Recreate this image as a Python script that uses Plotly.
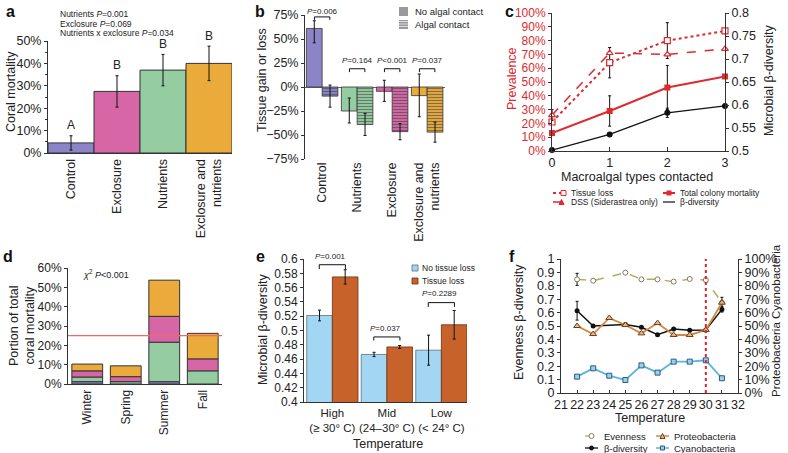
import plotly.graph_objects as go

# ---------------- DATA ----------------
# panel a
a_cats = ["Control", "Exclosure", "Nutrients", "Exclosure and<br>nutrients"]
a_mort = [4.5, 27.5, 37.0, 40.0]
a_err = [3.2, 7.0, 7.0, 7.7]
a_letters = ["A", "B", "B", "B"]

# panel b
b_cats = ["Control", "Nutrients", "Exclosure", "Exclosure and<br>nutrients"]
b_no = [61.0, -25.0, -4.5, -9.0]
b_no_plus = [8.0, 13.5, 11.5, 22.5]
b_no_minus = [15.0, 12.5, 10.5, 22.0]
b_alg = [-9.5, -39.0, -46.5, -47.0]
b_alg_err = [11.5, 11.5, 8.5, 10.5]
b_pvals = ["P=0.006", "P=0.164", "P<0.001", "P=0.037"]

# panel c
c_x = [0, 1, 2, 3]
c_tissue = [21, 64, 80, 87]
c_tissue_err = [None, 11, 13, None]
c_dss = [26, 71, 70, 74]
c_dss_err = [4, None, None, None]
c_mort = [13, 29, 46, 54]
c_mort_err = [None, 11, 16, None]
c_beta = [0.502, 0.536, 0.583, 0.598]
c_beta_err = [None, 0.004, 0.01, None]

# panel d
d_seasons = ["Winter", "Spring", "Summer", "Fall"]
d_control = [1.2, 0.0, 1.2, 0.0]
d_nutrients = [2.4, 1.2, 20.4, 6.8]
d_exclosure = [3.2, 2.6, 13.4, 6.2]
d_both = [3.5, 5.6, 18.7, 13.2]
d_threshold = 25

# panel e
e_cats = ["High<br>(≥ 30° C)", "Mid<br>(24–30° C)", "Low<br>(< 24° C)"]
e_no = [0.521, 0.4665, 0.4725]
e_no_err = [0.0075, 0.003, 0.021]
e_loss = [0.575, 0.477, 0.508]
e_loss_err = [0.01, 0.002, 0.02]
e_pvals = ["P=0.001", "P=0.037", "P=0.2289"]

# panel f
f_temp = [22, 23, 24, 25, 26, 27, 28, 29, 30, 31]
f_even = [0.848, 0.838, None, 0.898, 0.848, 0.848, 0.831, 0.851, 0.843, 0.674]
f_even_err = [0.045, None, None, None, None, None, None, None, None, None]
f_beta = [0.614, 0.500, None, 0.512, 0.490, 0.435, 0.478, 0.468, 0.470, 0.624]
f_beta_err = [0.07, None, None, None, None, None, None, None, None, 0.02]
f_proteo = [50, 44, 56, 50.7, 44.5, 52.2, 43.3, 43.3, 47, 67.4]
f_proteo_err = [None, None, None, None, None, None, None, None, None, 4]
f_cyano = [12.2, 18.4, 12.9, 9.7, 20.6, 15.2, 23.4, 23.4, 24.4, 11]
f_cutoff = 30

# ---------------- STYLE ----------------
FONT = "Liberation Sans, Arial, Helvetica, sans-serif"
W, H = 788, 453
TXT = "#222222"
PURPLE = "#8b84c6"
PINK = "#d766a7"
GREEN = "#95cca2"
ORANGE = "#eaab3b"
RED = "#dd2a2e"
LBLUE = "#a2d6f2"
BROWN = "#c8622b"
OLIVE = "#a9b35c"
POR = "#d9873f"
CYAN = "#5ab4e0"
EDGE = "#333333"


def px(x):
    return x / W


def py(y):
    return 1 - y / H


def dom(a, b, total):
    return [a / total, b / total]


def ydom(top, bottom):
    return [1 - bottom / H, 1 - top / H]


fig = go.Figure()
ebar = dict(type="data", color="#111111", thickness=1, width=1.5)

# ---- a ----
fig.add_trace(go.Bar(
    x=a_cats, y=a_mort, width=1, offset=-0.5,
    marker=dict(color=[PURPLE, PINK, GREEN, ORANGE], line=dict(color=EDGE, width=1)),
    error_y=dict(array=a_err, **ebar), xaxis="x", yaxis="y", showlegend=False))

# ---- b ----
b_cols = [PURPLE, GREEN, PINK, ORANGE]
fig.add_trace(go.Bar(
    x=b_cats, y=b_no, width=0.45, offset=-0.45,
    marker=dict(color=b_cols, line=dict(color=EDGE, width=0.8)),
    error_y=dict(array=b_no_plus, arrayminus=b_no_minus, symmetric=False, **ebar),
    xaxis="x2", yaxis="y2", showlegend=False))
fig.add_trace(go.Bar(
    x=b_cats, y=b_alg, width=0.45, offset=0,
    marker=dict(color=b_cols, line=dict(color=EDGE, width=0.8),
                pattern=dict(shape="-", fillmode="overlay", fgcolor="white",
                             fgopacity=0.6, size=3, solidity=0.4)),
    error_y=dict(array=b_alg_err, **ebar),
    xaxis="x2", yaxis="y2", showlegend=False))

# ---- c ----
fig.add_trace(go.Scatter(
    x=c_x, y=c_tissue, mode="lines+markers", cliponaxis=False,
    line=dict(color=RED, dash="dot", width=2),
    marker=dict(symbol="square", size=6, color="white", line=dict(color=RED, width=1.2)),
    error_y=dict(array=c_tissue_err, **ebar), xaxis="x3", yaxis="y3", showlegend=False))
fig.add_trace(go.Scatter(
    x=c_x, y=c_dss, mode="lines+markers", cliponaxis=False,
    line=dict(color=RED, dash="dash", width=1.5),
    marker=dict(symbol="triangle-up", size=6, color="white", line=dict(color=RED, width=1.2)),
    error_y=dict(array=c_dss_err, **ebar), xaxis="x3", yaxis="y3", showlegend=False))
fig.add_trace(go.Scatter(
    x=c_x, y=c_mort, mode="lines+markers", cliponaxis=False,
    line=dict(color=RED, width=2),
    marker=dict(symbol="square", size=6, color=RED),
    error_y=dict(array=c_mort_err, **ebar), xaxis="x3", yaxis="y3", showlegend=False))
fig.add_trace(go.Scatter(
    x=c_x, y=c_beta, mode="lines+markers", cliponaxis=False,
    line=dict(color="#111111", width=1.3),
    marker=dict(symbol="circle", size=6, color="#111111"),
    error_y=dict(array=c_beta_err, **ebar), xaxis="x3", yaxis="y4", showlegend=False))

# ---- d ----
d_layers = [(d_control, PURPLE), (d_nutrients, GREEN), (d_exclosure, PINK), (d_both, ORANGE)]
base = [0.0] * len(d_seasons)
for vals, col in d_layers:
    fig.add_trace(go.Bar(
        x=d_seasons, y=vals, base=list(base), width=0.8, offset=-0.4,
        marker=dict(color=col, line=dict(color=EDGE, width=1)),
        xaxis="x4", yaxis="y5", showlegend=False))
    base = [b + v for b, v in zip(base, vals)]

# ---- e ----
fig.add_trace(go.Bar(
    x=e_cats, y=e_no, width=0.47, offset=-0.47,
    marker=dict(color=LBLUE, line=dict(color="#5d6f7a", width=0.8)),
    error_y=dict(array=e_no_err, **ebar), xaxis="x5", yaxis="y6", showlegend=False))
fig.add_trace(go.Bar(
    x=e_cats, y=e_loss, width=0.47, offset=0,
    marker=dict(color=BROWN, line=dict(color="#6b3010", width=0.8)),
    error_y=dict(array=e_loss_err, **ebar), xaxis="x5", yaxis="y6", showlegend=False))

# ---- f ----
fig.add_trace(go.Scatter(
    x=f_temp, y=f_even, mode="lines+markers", connectgaps=True, cliponaxis=False,
    line=dict(color=OLIVE, dash="dash", width=1.5),
    marker=dict(symbol="circle", size=5, color="white", line=dict(color="#8a7a60", width=1)),
    error_y=dict(array=f_even_err, **ebar), xaxis="x6", yaxis="y7", showlegend=False))
fig.add_trace(go.Scatter(
    x=f_temp, y=f_proteo, mode="lines+markers", cliponaxis=False,
    line=dict(color=POR, width=1.8),
    marker=dict(symbol="triangle-up", size=6, color="#e7b88a", line=dict(color="#6b4020", width=1)),
    error_y=dict(array=f_proteo_err, **ebar), xaxis="x6", yaxis="y8", showlegend=False))
fig.add_trace(go.Scatter(
    x=f_temp, y=f_beta, mode="lines+markers", connectgaps=True, cliponaxis=False,
    line=dict(color="#111111", width=1.5),
    marker=dict(symbol="circle", size=5, color="#111111"),
    error_y=dict(array=f_beta_err, **ebar), xaxis="x6", yaxis="y7", showlegend=False))
fig.add_trace(go.Scatter(
    x=f_temp, y=f_cyano, mode="lines+markers", cliponaxis=False,
    line=dict(color=CYAN, width=1.8),
    marker=dict(symbol="square", size=5, color="#9fd0ea", line=dict(color="#2a5b80", width=1)),
    xaxis="x6", yaxis="y8", showlegend=False))

# ---------------- AXES ----------------
tickf = dict(family=FONT, size=12.5, color=TXT)
base_ax = dict(showgrid=False, zeroline=False, showline=True, linecolor=EDGE, linewidth=1,
               automargin=False, tickfont=tickf, ticks="outside", ticklen=3, tickcolor=EDGE)


def ax(**kw):
    d = dict(base_ax)
    d.update(kw)
    return d


pct = lambda vals: [f"{v}%".replace("-", "−") for v in vals]

layout = dict(
    width=W, height=H, margin=dict(l=0, r=0, t=0, b=0), autosize=False,
    paper_bgcolor="white", plot_bgcolor="white", barmode="overlay",
    font=dict(family=FONT, color=TXT), showlegend=False, hovermode=False,
    # a
    xaxis=ax(domain=dom(48, 232, W), range=[-0.5, 3.5], anchor="y", ticks="", tickangle=-90),
    yaxis=ax(domain=ydom(41, 153), range=[0, 50], anchor="x", tickvals=[0, 10, 20, 30, 40, 50],
             ticktext=pct([0, 10, 20, 30, 40, 50]),
             minor=dict(dtick=5, ticks="outside", ticklen=2, tickcolor=EDGE)),
    # b
    xaxis2=ax(domain=dom(305, 445, W), range=[-0.49, 3.51], anchor="y2", ticks="", showline=False,
              tickangle=-90),
    yaxis2=ax(domain=ydom(15, 159), range=[-75, 75], anchor="x2",
              tickvals=[-75, -50, -25, 0, 25, 50, 75], ticktext=pct([-75, -50, -25, 0, 25, 50, 75]),
              zeroline=True, zerolinecolor="#666666", zerolinewidth=1),
    # c
    xaxis3=ax(domain=dom(552, 725, W), range=[0, 3], anchor="y3", tickvals=c_x, ticks="inside",
              ticklen=4),
    yaxis3=ax(domain=ydom(13, 151), range=[0, 100], anchor="x3", tickvals=list(range(0, 101, 10)),
              ticktext=pct(range(0, 101, 10)), tickfont=dict(family=FONT, size=12, color=RED)),
    yaxis4=ax(domain=ydom(13, 151), range=[0.5, 0.8], anchor="x3", overlaying="y3", side="right",
              tickvals=[0.5, 0.55, 0.6, 0.65, 0.7, 0.75, 0.8],
              ticktext=["0.5", "0.55", "0.6", "0.65", "0.7", "0.75", "0.8"]),
    # d
    xaxis4=ax(domain=dom(68, 222, W), range=[-0.5, 3.5], anchor="y5", ticks="", tickangle=-90,
              tickfont=dict(family=FONT, size=12, color=TXT)),
    yaxis5=ax(domain=ydom(268, 384), range=[0, 60], anchor="x4", tickvals=list(range(0, 61, 10)),
              ticktext=pct(range(0, 61, 10)), tickfont=dict(family=FONT, size=12, color=TXT)),
    # e
    xaxis5=ax(domain=dom(304, 467, W), range=[-0.52, 2.47], anchor="y6", ticks="", tickangle=0,
              tickfont=dict(family=FONT, size=11.5, color=TXT)),
    yaxis6=ax(domain=ydom(259, 402), range=[0.4, 0.6], anchor="x5",
              tickvals=[0.4 + 0.02 * i for i in range(11)],
              ticktext=["0.4", "0.42", "0.44", "0.46", "0.48", "0.5", "0.52", "0.54", "0.56", "0.58", "0.6"],
              tickfont=dict(family=FONT, size=12, color=TXT)),
    # f
    xaxis6=ax(domain=dom(561, 738, W), range=[21, 32], anchor="y7", tickvals=list(range(21, 33)),
              tickangle=0, ticks="inside"),
    yaxis7=ax(domain=ydom(259, 393), range=[0, 1], anchor="x6", tickvals=[i / 10 for i in range(11)],
              ticktext=["0", "0.1", "0.2", "0.3", "0.4", "0.5", "0.6", "0.7", "0.8", "0.9", "1"]),
    yaxis8=ax(domain=ydom(259, 393), range=[0, 100], anchor="x6", overlaying="y7", side="right",
              tickvals=list(range(0, 101, 10)), ticktext=pct(range(0, 101, 10))),
)

ann = []
shapes = []


def note(x, y, text, size=12, xref="paper", yref="paper", xanchor="center", yanchor="middle",
         angle=0, color=TXT, **kw):
    ann.append(dict(x=x, y=y, text=text, xref=xref, yref=yref, xanchor=xanchor, yanchor=yanchor,
                    textangle=angle, showarrow=False, font=dict(family=FONT, size=size, color=color), **kw))


# panel letters
for letter, (lx, ly) in zip("abcdef", [(10, 11), (260, 11), (509, 11), (8, 256), (260, 256), (512, 256)]):
    note(px(lx), py(ly), f"<b>{letter}</b>", size=16, color="#111111")

# ---- a annotations ----
note(px(11), py(92), "Coral mortality", size=12.5, angle=-90)
note(px(58), py(14), "Nutrients <i>P</i>=0.001", size=8.5, xanchor="left")
note(px(58), py(23.5), "Exclosure <i>P</i>=0.069", size=8.5, xanchor="left")
note(px(58), py(33), "Nutrients x exclosure <i>P</i>=0.034", size=8.5, xanchor="left")
for i, (lab, v, e) in enumerate(zip(a_letters, a_mort, a_err)):
    note(i, v + e + 0.6, lab, size=12, xref="x", yref="y", yanchor="bottom")

# ---- b annotations ----
note(px(262), py(80), "Tissue gain or loss", size=12.5, angle=-90)
b_brk = [(73, 70), (19, 15.5), (19, 15.5), (19, 15.5)]
for i, (p, (top, bot)) in enumerate(zip(b_pvals, b_brk)):
    shapes.append(dict(type="path", xref="x2", yref="y2",
                       path=f"M {i-0.22},{bot} L {i-0.22},{top} L {i+0.22},{top} L {i+0.22},{bot}",
                       line=dict(color="#111111", width=1)))
    label = p.replace("P", "<i>P</i>", 1)
    if i == 0:
        note(i, py(11), label, size=8, xref="x2", yref="paper")
    else:
        note(i, top + 2, label, size=8, xref="x2", yref="y2", yanchor="bottom")
# b legend
shapes.append(dict(type="rect", xref="paper", yref="paper", x0=px(399), x1=px(408), y0=py(16), y1=py(7),
                   fillcolor="#9a9a9a", line=dict(width=0)))
shapes.append(dict(type="rect", xref="paper", yref="paper", x0=px(399), x1=px(408), y0=py(29), y1=py(20),
                   fillcolor="#9a9a9a", line=dict(width=0)))
for yy in [21.5, 24, 26.5]:
    shapes.append(dict(type="line", xref="paper", yref="paper", x0=px(399), x1=px(408), y0=py(yy), y1=py(yy),
                       line=dict(color="#dddddd", width=1)))
note(px(413), py(11.5), "No algal contact", size=9.5, xanchor="left")
note(px(413), py(24.5), "Algal contact", size=9.5, xanchor="left")

# ---- c annotations ----
note(px(512), py(78), "Prevalence", size=12.5, angle=-90, color=RED)
note(px(769), py(81), "Microbial β-diversity", size=12.5, angle=-90)
note(px(637), py(177), "Macroalgal types contacted", size=12.5)
# c legend
shapes.append(dict(type="line", xref="paper", yref="paper", x0=px(553), x1=px(561), y0=py(193), y1=py(193),
                   line=dict(color=RED, width=2, dash="dot")))
shapes.append(dict(type="rect", xref="paper", yref="paper", x0=px(561), x1=px(566), y0=py(195.5), y1=py(190.5),
                   fillcolor="white", line=dict(color=RED, width=1)))
shapes.append(dict(type="line", xref="paper", yref="paper", x0=px(553), x1=px(567), y0=py(202), y1=py(202),
                   line=dict(color=RED, width=1.5, dash="dash")))
shapes.append(dict(type="path", xref="paper", yref="paper",
                   path=f"M {px(559)},{py(204.5)} L {px(564)},{py(204.5)} L {px(561.5)},{py(199.5)} Z",
                   fillcolor=RED, line=dict(color=RED, width=1)))
shapes.append(dict(type="line", xref="paper", yref="paper", x0=px(663), x1=px(675), y0=py(193), y1=py(193),
                   line=dict(color=RED, width=2)))
shapes.append(dict(type="rect", xref="paper", yref="paper", x0=px(666.5), x1=px(671.5), y0=py(195.5), y1=py(190.5),
                   fillcolor=RED, line=dict(color=RED, width=0)))
shapes.append(dict(type="line", xref="paper", yref="paper", x0=px(663), x1=px(675), y0=py(202), y1=py(202),
                   line=dict(color="#111111", width=1.2)))
note(px(569), py(193), "Tissue loss", size=8.5, xanchor="left")
note(px(569), py(202.5), "DSS (Siderastrea only)", size=8.5, xanchor="left")
note(px(678), py(193), "Total colony mortality", size=8.5, xanchor="left")
note(px(678), py(202.5), "β-diversity", size=8.5, xanchor="left")

# ---- d annotations ----
note(px(22), py(326), "Portion of total<br>coral mortality", size=12.5, angle=-90)
note(px(81), py(274), "<i>χ</i><sup>2</sup> <i>P</i><0.001", size=9, xanchor="left")
shapes.append(dict(type="line", xref="x4 domain", yref="y5", x0=0, x1=1, y0=d_threshold, y1=d_threshold,
                   line=dict(color="#ee6a6a", width=1.2)))

# ---- e annotations ----
note(px(263), py(330), "Microbial β-diversity", size=12.5, angle=-90)
note(px(388), py(444), "Temperature", size=12.5)
e_brk = [(0.592, 0.586), (0.491, 0.486), (0.539, 0.533)]
for i, (p, (top, bot)) in enumerate(zip(e_pvals, e_brk)):
    shapes.append(dict(type="path", xref="x5", yref="y6",
                       path=f"M {i-0.24},{bot} L {i-0.24},{top} L {i+0.24},{top} L {i+0.24},{bot}",
                       line=dict(color="#111111", width=1)))
    note(i - 0.03, top + 0.003, p.replace("P", "<i>P</i>", 1), size=8, xref="x5", yref="y6",
         yanchor="bottom")
shapes.append(dict(type="rect", xref="paper", yref="paper", x0=px(412), x1=px(418), y0=py(271), y1=py(265),
                   fillcolor=LBLUE, line=dict(color="#5d6f7a", width=0.8)))
shapes.append(dict(type="rect", xref="paper", yref="paper", x0=px(412), x1=px(418), y0=py(284), y1=py(278),
                   fillcolor=BROWN, line=dict(color="#6b3010", width=0.8)))
note(px(420), py(268), "No tissue loss", size=8.5, xanchor="left")
note(px(420), py(281), "Tissue loss", size=8.5, xanchor="left")

# ---- f annotations ----
note(px(519), py(322), "Evenness β-diversity", size=12.5, angle=-90)
note(px(776), py(321), "Proteobacteria Cyanobacteria", size=11.5, angle=-90)
note(px(650), py(418), "Temperature", size=12.5)
shapes.append(dict(type="line", xref="x6", yref="y7", x0=f_cutoff, x1=f_cutoff, y0=0, y1=1,
                   line=dict(color="#e0202a", width=2, dash="dot")))
# f legend
shapes.append(dict(type="line", xref="paper", yref="paper", x0=px(585), x1=px(598), y0=py(436), y1=py(436),
                   line=dict(color=OLIVE, width=1.3, dash="dash")))
shapes.append(dict(type="circle", xref="paper", yref="paper", x0=px(589), x1=px(594), y0=py(438.5), y1=py(433.5),
                   fillcolor="white", line=dict(color="#8a7a60", width=1)))
shapes.append(dict(type="line", xref="paper", yref="paper", x0=px(585), x1=px(598), y0=py(448), y1=py(448),
                   line=dict(color="#111111", width=1.3)))
shapes.append(dict(type="circle", xref="paper", yref="paper", x0=px(589.5), x1=px(593.5), y0=py(450), y1=py(446),
                   fillcolor="#111111", line=dict(color="#111111", width=1)))
shapes.append(dict(type="line", xref="paper", yref="paper", x0=px(656), x1=px(669), y0=py(436), y1=py(436),
                   line=dict(color=POR, width=1.5)))
shapes.append(dict(type="path", xref="paper", yref="paper",
                   path=f"M {px(660)},{py(438.5)} L {px(665)},{py(438.5)} L {px(662.5)},{py(433.5)} Z",
                   fillcolor="#e7b88a", line=dict(color="#6b4020", width=1)))
shapes.append(dict(type="line", xref="paper", yref="paper", x0=px(656), x1=px(669), y0=py(448), y1=py(448),
                   line=dict(color=CYAN, width=1.5)))
shapes.append(dict(type="rect", xref="paper", yref="paper", x0=px(660.5), x1=px(664.5), y0=py(450), y1=py(446),
                   fillcolor="#9fd0ea", line=dict(color="#2a5b80", width=1)))
note(px(602), py(436), "Evenness", size=9.5, xanchor="left")
note(px(602), py(448), "β-diversity", size=9.5, xanchor="left")
note(px(672), py(436), "Proteobacteria", size=9.5, xanchor="left")
note(px(672), py(448), "Cyanobacteria", size=9.5, xanchor="left")

layout["annotations"] = ann
layout["shapes"] = shapes
fig.update_layout(**layout)
fig.write_html("out.html", config={"displayModeBar": False},
               post_script="document.body.style.margin='0';document.body.style.padding='0';"
                           "document.body.style.overflow='hidden';")
